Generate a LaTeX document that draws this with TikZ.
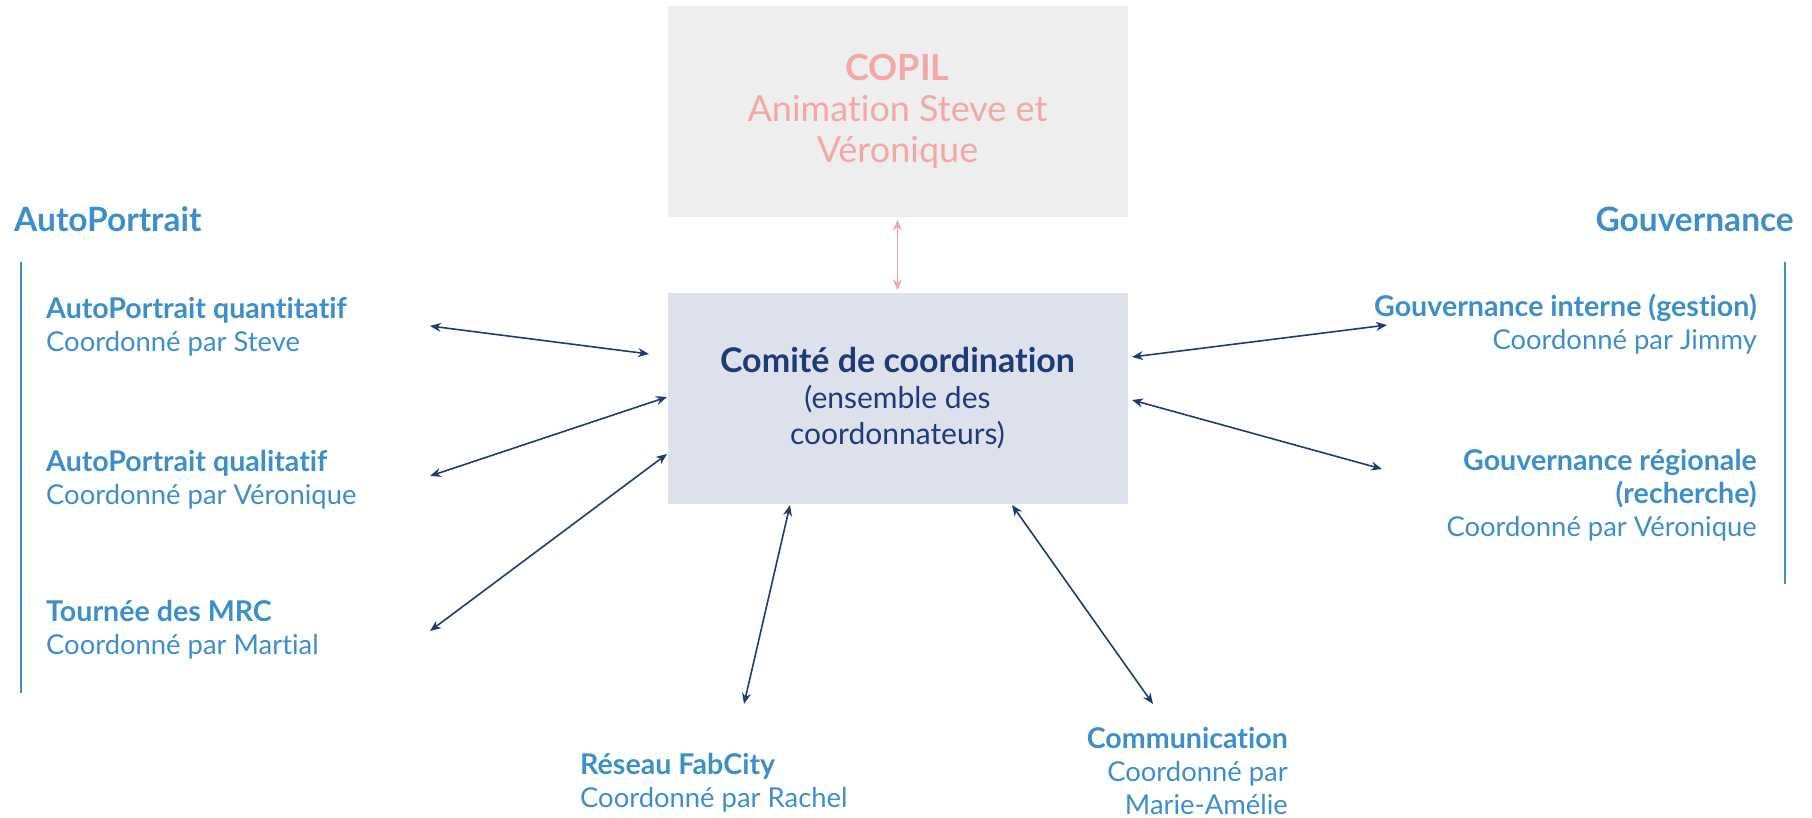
\documentclass[tikz,border=0pt]{standalone}
\usepackage{fontspec}
\setmainfont{Lato}[Ligatures=NoCommon]
\usepackage{tikz}
\usetikzlibrary{positioning,arrows.meta}

\definecolor{bleuclair}{HTML}{3D8FCB}
\definecolor{marine}{HTML}{1F3A77}
\definecolor{rose}{HTML}{F2A8A7}
\definecolor{grisbox}{HTML}{EEEEEE}
\definecolor{bleubox}{HTML}{DCE1EC}

\newcommand{\gras}[1]{{\fontsize{28.6}{33}\selectfont\bfseries #1}}

\begin{document}
\begin{tikzpicture}[
				x=1pt, y=-1pt,
				boite/.style={rectangle, inner sep=0pt,
					minimum width=460pt, minimum height=211pt, align=center},
				titre/.style={inner sep=0pt, text=bleuclair,
					font=\fontsize{33.5}{40}\selectfont\bfseries},
				item/.style={inner sep=0pt, text=bleuclair,
					font=\fontsize{27.4}{33}\selectfont},
				lien/.style={draw=marine, line width=1.6pt,
					{Stealth[length=11pt,width=9pt]}-{Stealth[length=11pt,width=9pt]}},
				regle/.style={draw=bleuclair, line width=2pt}
				]
				\useasboundingbox (0,0) rectangle (1812,817);
				
				% Les deux boîtes centrales
				\node[boite, fill=grisbox, text=rose, font=\fontsize{36}{41}\selectfont]
				(copil) at (897.5,111)
				{\textbf{COPIL}\\Animation Steve et\\Véronique};
				\node[boite, fill=bleubox, text=marine, font=\fontsize{30}{36}\selectfont]
				(comite) at (897.5,398)
				{{\fontsize{34}{37}\selectfont\bfseries Comité de coordination}\\(ensemble des\\coordonnateurs)};
				
				% Colonne gauche : AutoPortrait (ancre = ligne de base de la dernière ligne)
				\node[titre, anchor=base west] (autoportrait) at (14,231) {AutoPortrait};
				\draw[regle] (21,262) -- (21,693);
				\node[item, anchor=base west, align=left] (quanti) at (46,351)
				{\gras{AutoPortrait quantitatif}\\Coordonné par Steve};
				\node[item, anchor=base west, align=left] (quali) at (46,504)
				{\gras{AutoPortrait qualitatif}\\Coordonné par Véronique};
				\node[item, anchor=base west, align=left] (mrc) at (46,654)
				{\gras{Tournée des MRC}\\Coordonné par Martial};
				
				% Colonne droite : Gouvernance
				\node[titre, anchor=base east] (gouvernance) at (1794,231) {Gouvernance};
				\draw[regle] (1785,262) -- (1785,584);
				\node[item, anchor=base east, align=right] (interne) at (1757,349)
				{\gras{Gouvernance interne (gestion)}\\Coordonné par Jimmy};
				\node[item, anchor=base east, align=right] (regionale) at (1757,536)
				{\gras{Gouvernance régionale}\\\gras{(recherche)}\\Coordonné par Véronique};
				
				% En bas
				\node[item, anchor=base west, align=left] (fabcity) at (580,807)
				{\gras{Réseau FabCity}\\Coordonné par Rachel};
				\node[item, anchor=base east, align=right] (communication) at (1288,814)
				{\gras{Communication}\\Coordonné par\\Marie-Amélie};
				
				% Extrémités des flèches
				\coordinate (quanti-a) at (430,326);   \coordinate (quanti-b) at (649,354);
				\coordinate (quali-a) at (430,476);    \coordinate (quali-b) at (667,397);
				\coordinate (mrc-a) at (430,631);      \coordinate (mrc-b) at (667,454);
				\coordinate (fabcity-a) at (744,704);  \coordinate (fabcity-b) at (790,505);
				\coordinate (comm-a) at (1153,704);    \coordinate (comm-b) at (1012,505);
				\coordinate (interne-a) at (1387,325); \coordinate (interne-b) at (1132,357);
				\coordinate (regionale-a) at (1382,469); \coordinate (regionale-b) at (1132,400);
				
				\draw[lien] (quanti-a) -- (quanti-b);
				\draw[lien] (quali-a) -- (quali-b);
				\draw[lien] (mrc-a) -- (mrc-b);
				\draw[lien] (fabcity-a) -- (fabcity-b);
				\draw[lien] (comm-a) -- (comm-b);
				\draw[lien] (interne-a) -- (interne-b);
				\draw[lien] (regionale-a) -- (regionale-b);
				
				% COPIL <-> comité
				\draw[lien, draw=rose, shorten <=3pt, shorten >=2pt] (copil) -- (comite);
				
			\end{tikzpicture}
\end{document}
